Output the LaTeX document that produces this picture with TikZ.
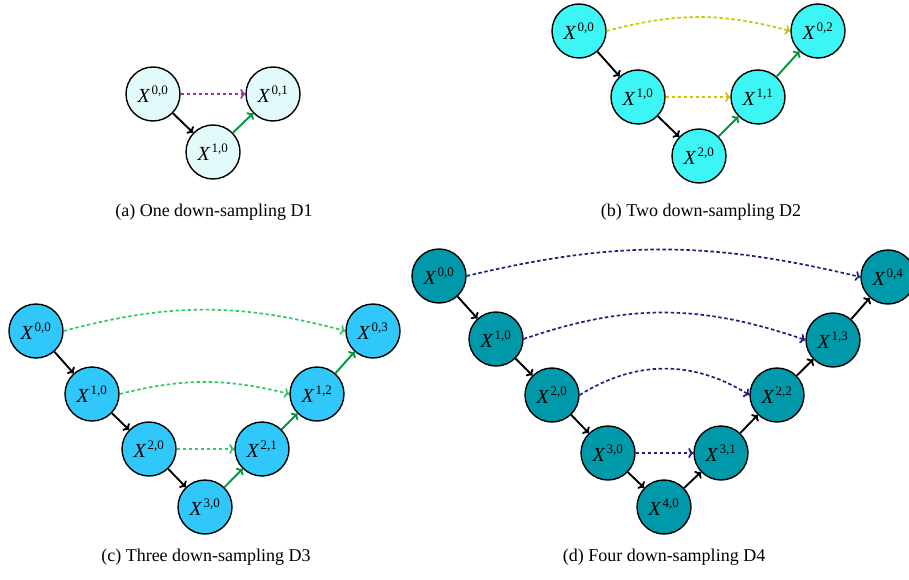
\documentclass[tikz,border=0pt]{standalone}
\usepackage{fontspec}
\setmainfont{Liberation Serif}
\usetikzlibrary{arrows.meta}
\definecolor{fa}{HTML}{E3FAFA}
\definecolor{fb}{HTML}{3DF5F5}
\definecolor{fc}{HTML}{30C8FA}
\definecolor{fd}{HTML}{0099AA}
\definecolor{da}{HTML}{993399}
\definecolor{db}{HTML}{C8C800}
\definecolor{dc}{HTML}{33C866}
\definecolor{dd}{HTML}{1F1F7A}
\definecolor{up}{HTML}{00963C}
\tikzset{
  nd/.style={circle,draw=black,line width=1.4pt,minimum size=54pt,inner sep=0pt,font=\fontsize{20}{20}\selectfont},
  ar/.style={line width=1.9pt,-{To[length=5pt,width=10pt]}},
  dn/.style={ar,black},
  upg/.style={ar,up},
  upk/.style={ar,black},
  sk/.style={ar,line width=1.7pt,dash pattern=on 3.5pt off 2.5pt},
  captxt/.style={font=\fontsize{18}{18}\selectfont}
}
\newcommand{\xl}[2]{\textit{X}\kern1.2pt\textsuperscript{\fontsize{13}{13}\selectfont #1,#2}}
\begin{document}
\begin{tikzpicture}[x=1pt,y=-1pt]
\useasboundingbox (0,0) rectangle (909,580);
% (a)
\begin{scope}[every node/.append style={fill=fa}]
\node[nd] (a00) at (153,94) {\xl00};
\node[nd] (a10) at (213,152) {\xl10};
\node[nd] (a01) at (273,94) {\xl01};
\end{scope}
\draw[dn] (a00) -- (a10);
\draw[upg] (a10) -- (a01);
\draw[sk,da] (a00) -- (a01);
\node[captxt] (capa) at (214,212) {(a) One down-sampling D1};
% (b)
\begin{scope}[every node/.append style={fill=fb}]
\node[nd] (b00) at (579,31) {\xl00};
\node[nd] (b10) at (638,97) {\xl10};
\node[nd] (b20) at (699,156) {\xl20};
\node[nd] (b11) at (758,97) {\xl11};
\node[nd] (b02) at (818,31) {\xl02};
\end{scope}
\draw[dn] (b00) -- (b10);
\draw[dn] (b10) -- (b20);
\draw[upg] (b20) -- (b11);
\draw[upg] (b11) -- (b02);
\draw[sk,db] (b00.east) to[out=15,in=165] (b02.west);
\draw[sk,db] (b10) -- (b11);
\node[captxt] (capb) at (701,212) {(b) Two down-sampling D2};
% (c)
\begin{scope}[every node/.append style={fill=fc}]
\node[nd] (c00) at (36,331) {\xl00};
\node[nd] (c10) at (92,394) {\xl10};
\node[nd] (c20) at (149,449) {\xl20};
\node[nd] (c30) at (205,507) {\xl30};
\node[nd] (c21) at (262,449) {\xl21};
\node[nd] (c12) at (317,394) {\xl12};
\node[nd] (c03) at (373,331) {\xl03};
\end{scope}
\draw[dn] (c00) -- (c10);
\draw[dn] (c10) -- (c20);
\draw[dn] (c20) -- (c30);
\draw[upg] (c30) -- (c21);
\draw[upg] (c21) -- (c12);
\draw[upg] (c12) -- (c03);
\draw[sk,dc] (c00.east) to[out=15,in=165] (c03.west);
\draw[sk,dc] (c10.east) to[out=14,in=166] (c12.west);
\draw[sk,dc] (c20) -- (c21);
\node[captxt] (capc) at (206,557) {(c) Three down-sampling D3};
% (d)
\begin{scope}[every node/.append style={fill=fd}]
\node[nd] (d00) at (439,276) {\xl00};
\node[nd] (d10) at (496,339) {\xl10};
\node[nd] (d20) at (552,395) {\xl20};
\node[nd] (d30) at (608,453) {\xl30};
\node[nd] (d40) at (664,507) {\xl40};
\node[nd] (d31) at (721,453) {\xl31};
\node[nd] (d22) at (777,395) {\xl22};
\node[nd] (d13) at (833,340) {\xl13};
\node[nd] (d04) at (888,277) {\xl04};
\end{scope}
\draw[dn] (d00) -- (d10);
\draw[dn] (d10) -- (d20);
\draw[dn] (d20) -- (d30);
\draw[dn] (d30) -- (d40);
\draw[upk] (d40) -- (d31);
\draw[upk] (d31) -- (d22);
\draw[upk] (d22) -- (d13);
\draw[upk] (d13) -- (d04);
\draw[sk,dd] (d00.east) to[out=13.5,in=166.5] (d04.west);
\draw[sk,dd] (d10.east) to[out=19,in=161] (d13.west);
\draw[sk,dd] (d20.east) to[out=32,in=148] (d22.west);
\draw[sk,dd] (d30) -- (d31);
\node[captxt] (capd) at (664,557) {(d) Four down-sampling D4};
\end{tikzpicture}
\end{document}
